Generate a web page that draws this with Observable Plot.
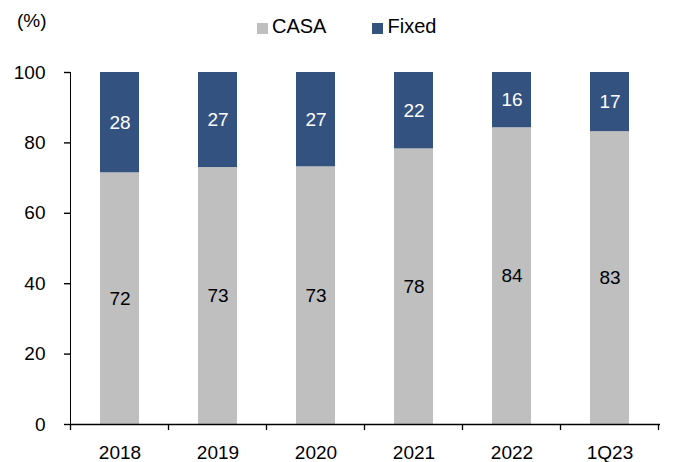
<!DOCTYPE html>
<html>
<head>
<meta charset="utf-8">
<script src="https://cdn.jsdelivr.net/npm/d3@7"></script>
<script src="https://cdn.jsdelivr.net/npm/@observablehq/plot@0.6"></script>
<style>
  html, body { margin: 0; padding: 0; background: #fff; }
  #wrap { position: relative; width: 676px; height: 462px; font-family: "Liberation Sans", Arial, sans-serif; }
  #unit { position: absolute; left: 17px; top: 10px; font-size: 19px; color: #000; }
  #legend { position: absolute; left: 257px; top: 15px; font-size: 20px; color: #000; display: flex; align-items: center; }
  #legend .item { display: flex; align-items: center; margin-right: 46px; }
  #legend .sw { width: 11px; height: 11px; margin-right: 4px; margin-top: 3px; }
  svg { position: absolute; left: 0; top: 0; }
</style>
</head>
<body>
<div id="wrap">
  <div id="unit">(%)</div>
  <div id="legend"></div>
</div>
<script>
const categories = ["2018", "2019", "2020", "2021", "2022", "1Q23"];
const seriesNames = ["CASA", "Fixed"];
const seriesColors = ["#bfbfbf", "#34527f"];
const labelColors = ["#000000", "#ffffff"];
const casa = [71.5, 73.0, 73.2, 78.3, 84.3, 83.2];
const fixed = [28.5, 27.0, 26.8, 21.7, 15.7, 16.8];
const casaLabels = ["72", "73", "73", "78", "84", "83"];
const fixedLabels = ["28", "27", "27", "22", "16", "17"];
const yTicks = [0, 20, 40, 60, 80, 100];

const rows = [];
categories.forEach((c, i) => {
  rows.push({cat: c, series: seriesNames[0], value: casa[i], label: casaLabels[i], color: seriesColors[0], tcolor: labelColors[0]});
  rows.push({cat: c, series: seriesNames[1], value: fixed[i], label: fixedLabels[i], color: seriesColors[1], tcolor: labelColors[1]});
});

const W = 676, H = 462;
const plot = Plot.plot({
  width: W,
  height: H,
  marginLeft: 70,
  marginRight: 16,
  marginTop: 72,
  marginBottom: 38,
  style: {fontFamily: "'Liberation Sans', Arial, sans-serif", fontSize: "19px", color: "#000", background: "transparent"},
  x: {domain: categories, paddingInner: 0.6, paddingOuter: 0.3, label: null, tickSize: 0, tickPadding: 21},
  y: {domain: [0, 100], ticks: yTicks, tickSize: 6, tickPadding: 19, label: null, line: true},
  color: {type: "identity"},
  marks: [
    Plot.barY(rows, Plot.stackY({x: "cat", y: "value", z: "series", fill: "color", order: seriesNames})),
    Plot.text(rows, Plot.stackY({x: "cat", y: "value", z: "series", text: "label", fill: "tcolor", order: seriesNames, fontSize: 19})),
    Plot.ruleY([0], {stroke: "#000", strokeWidth: 1.5})
  ]
});

// boundary ticks on the category axis, derived from the x scale
const xs = plot.scale("x");
const ys = plot.scale("y");
const y0 = ys.apply(0);
const half = (xs.step - xs.bandwidth) / 2;
const svg = d3.select(plot);
const bounds = categories.map(c => xs.apply(c) - half);
bounds.push(xs.apply(categories[categories.length - 1]) + xs.bandwidth + half);
svg.append("g").selectAll("line").data(bounds).join("line")
  .attr("x1", d => d).attr("x2", d => d)
  .attr("y1", y0).attr("y2", y0 + 6)
  .attr("stroke", "#000").attr("stroke-width", 1.3);
svg.selectAll("[aria-label='y-axis'] line, [aria-label='y-axis tick'] path, [aria-label='y-axis'] path").attr("stroke-width", 1.4);

document.getElementById("wrap").appendChild(plot);

const legend = document.getElementById("legend");
seriesNames.forEach((s, i) => {
  const item = document.createElement("div");
  item.className = "item";
  const sw = document.createElement("div");
  sw.className = "sw";
  sw.style.background = seriesColors[i];
  const t = document.createElement("span");
  t.textContent = s;
  item.appendChild(sw);
  item.appendChild(t);
  legend.appendChild(item);
});
</script>
</body>
</html>
